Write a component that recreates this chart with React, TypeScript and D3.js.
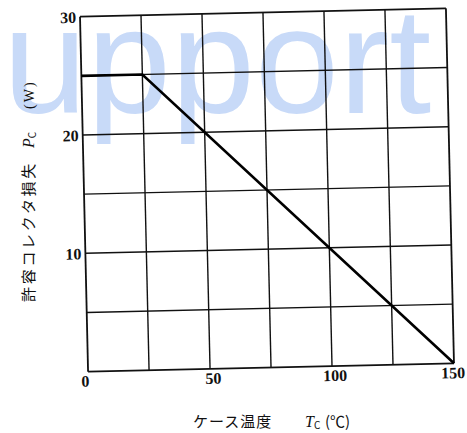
import { scaleLinear, line } from "d3";

// case temperature (°C) vs allowed collector dissipation (W)
const curveTemp = [0, 25, 150];
const curvePower = [25, 25, 0];

const gridTemps = [0, 25, 50, 75, 100, 125, 150];
const gridPowers = [0, 5, 10, 15, 20, 25, 30];
const tempLabels = [0, 50, 100, 150];
const powerLabels = [10, 20, 30];

const yTitle = "許容コレクタ損失";
const xTitle = "ケース温度";
const watermark = "upport";

const W = 467;
const H = 433;

const plot = { left: 84, right: 450, top: 12.5, bottom: 367.5 };
const tilt = -1.3;

const serif = "'Liberation Serif', 'DejaVu Serif', serif";
const cjk = "'Noto Sans CJK JP', sans-serif";

const App = () => {
  const x = scaleLinear().domain([0, 150]).range([plot.left, plot.right]);
  const y = scaleLinear().domain([0, 30]).range([plot.bottom, plot.top]);

  const pts = curveTemp.map((t, i) => [t, curvePower[i]] as [number, number]);
  const path = line<[number, number]>()
    .x(d => x(d[0]))
    .y(d => y(d[1]))(pts) || "";

  const cx = (plot.left + plot.right) / 2;
  const cy = (plot.top + plot.bottom) / 2;

  // nudge the end labels the way the scan has them
  const labelShift = (t: number) => (t === 0 ? -3 : t === 150 ? -1 : 3);

  return (
    <svg
      width={W}
      height={H}
      style={{ position: "absolute", left: 0, top: 0, background: "#fff" }}
    >
      <text
        x={3}
        y={113}
        fontFamily="'Liberation Sans', Arial, sans-serif"
        fontSize={151}
        fill="#c8daf8"
      >
        {watermark}
      </text>

      <g transform={`rotate(${tilt}, ${cx}, ${cy})`}>
        {gridTemps.map(t => (
          <line key={"v" + t} x1={x(t)} x2={x(t)} y1={y(0)} y2={y(30)}
            stroke="#111" strokeWidth={t === 0 || t === 150 ? 1.8 : 1.4} />
        ))}
        {gridPowers.map(p => (
          <line key={"h" + p} x1={x(0)} x2={x(150)} y1={y(p)} y2={y(p)}
            stroke="#111" strokeWidth={p === 0 || p === 30 ? 1.8 : 1.4} />
        ))}
        <path d={path} fill="none" stroke="#000" strokeWidth={2.6} strokeLinejoin="miter" />

        {tempLabels.map(t => (
          <text key={"xt" + t} x={x(t) + labelShift(t)} y={plot.bottom + 15}
            textAnchor="middle" fontFamily={serif} fontWeight="bold" fontSize={16} fill="#111">
            {t}
          </text>
        ))}
        {powerLabels.map(p => (
          <text key={"yt" + p} x={plot.left - 4} y={y(p) + 6}
            textAnchor="end" fontFamily={serif} fontWeight="bold" fontSize={16} fill="#111">
            {p}
          </text>
        ))}
      </g>

      {/* x title */}
      <text x={193} y={427} fontFamily={cjk} fontSize={15} letterSpacing={1} fill="#111">
        {xTitle}
      </text>
      <text x={305} y={427} fontFamily={serif} fontStyle="italic" fontSize={16} fill="#111">
        T<tspan fontSize={10} dy={2} fontFamily={cjk} fontStyle="normal">C</tspan>
      </text>
      <text x={325} y={427} fontFamily={cjk} fontSize={15} fill="#111">
        (℃)
      </text>

      {/* y title */}
      <text transform="translate(34, 302) rotate(-90)" fontFamily={cjk} fontSize={15}
        letterSpacing={2.7} fill="#111">
        {yTitle}
      </text>
      <text transform="translate(34, 148) rotate(-90)" fontFamily={serif} fontStyle="italic"
        fontSize={16} fill="#111">
        P<tspan fontSize={10} dy={2} fontFamily={cjk} fontStyle="normal">C</tspan>
      </text>
      <text transform="translate(34, 109) rotate(-90)" fontFamily={serif} fontSize={14}
        letterSpacing={2} fill="#111">
        (W)
      </text>
    </svg>
  );
};

export default App;
